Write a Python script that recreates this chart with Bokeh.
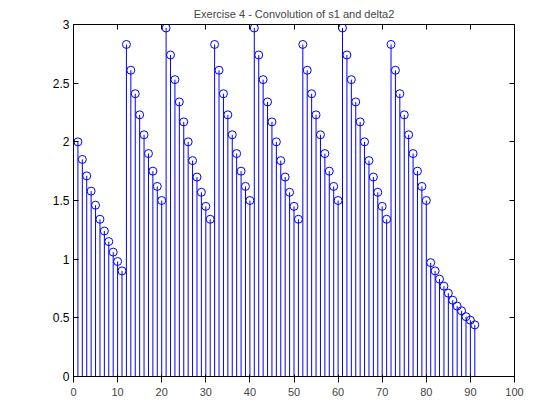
from bokeh.plotting import figure
from bokeh.models import FixedTicker, LinearAxis, CustomJSTickFormatter, Range1d
from bokeh.embed import file_html
from bokeh.resources import INLINE

seg_a = [2.0, 1.85, 1.71, 1.58, 1.46, 1.34, 1.24, 1.15, 1.06, 0.98, 0.90]
seg_b = [2.83, 2.61, 2.41, 2.23, 2.06, 1.90, 1.75, 1.62, 1.50]
seg_c = [2.97, 2.74, 2.53, 2.34, 2.17, 2.00, 1.84, 1.70, 1.57, 1.45, 1.34]
seg_d = [0.97, 0.90, 0.83, 0.77, 0.71, 0.65, 0.60, 0.56, 0.51, 0.48, 0.44]

y = seg_a + seg_b + seg_c + seg_b + seg_c + seg_b + seg_c + seg_b + seg_d
n = list(range(1, len(y) + 1))

x_ticks = [0, 10, 20, 30, 40, 50, 60, 70, 80, 90, 100]
y_ticks = [0, 0.5, 1, 1.5, 2, 2.5, 3]

p = figure(width=544, height=404, output_backend="svg", toolbar_location=None,
           x_range=Range1d(0, 100), y_range=Range1d(0, 3),
           title="Exercise 4 - Convolution of s1 and delta2",
           min_border_left=73, min_border_right=30, min_border_top=4, min_border_bottom=28)
p.title.align = "center"
p.title.text_font = "Liberation Sans"
p.title.text_font_size = "11px"
p.title.text_font_style = "normal"
p.grid.visible = False
p.outline_line_color = "black"

p.segment(x0=n, y0=[0] * len(n), x1=n, y1=y, line_color="blue", line_width=1)
p.scatter(n, y, marker="circle", size=8, fill_color=None, line_color="blue", line_width=1)

fmt = CustomJSTickFormatter(code="return String(Math.round(tick*10)/10);")
blank = CustomJSTickFormatter(code="return '';")
p.xaxis.ticker = FixedTicker(ticks=x_ticks)
p.yaxis.ticker = FixedTicker(ticks=y_ticks)
p.xaxis.formatter = fmt
p.yaxis.formatter = fmt

top = LinearAxis(ticker=FixedTicker(ticks=x_ticks), formatter=blank)
right = LinearAxis(ticker=FixedTicker(ticks=y_ticks), formatter=blank)
p.add_layout(top, "above")
p.add_layout(right, "right")

for ax in [p.xaxis[0], p.yaxis[0], top, right]:
    ax.major_tick_in = 5
    ax.major_tick_out = 0
    ax.minor_tick_line_color = None
    ax.axis_line_color = "black"
    ax.major_tick_line_color = "black"
    ax.major_label_text_font = "Liberation Sans"
    ax.major_label_text_color = "black"
    ax.major_label_text_font_size = "12px"
    ax.major_label_standoff = 4
top.major_label_standoff = 0
right.major_label_standoff = 0

open("out.html", "w").write(file_html(p, INLINE))
